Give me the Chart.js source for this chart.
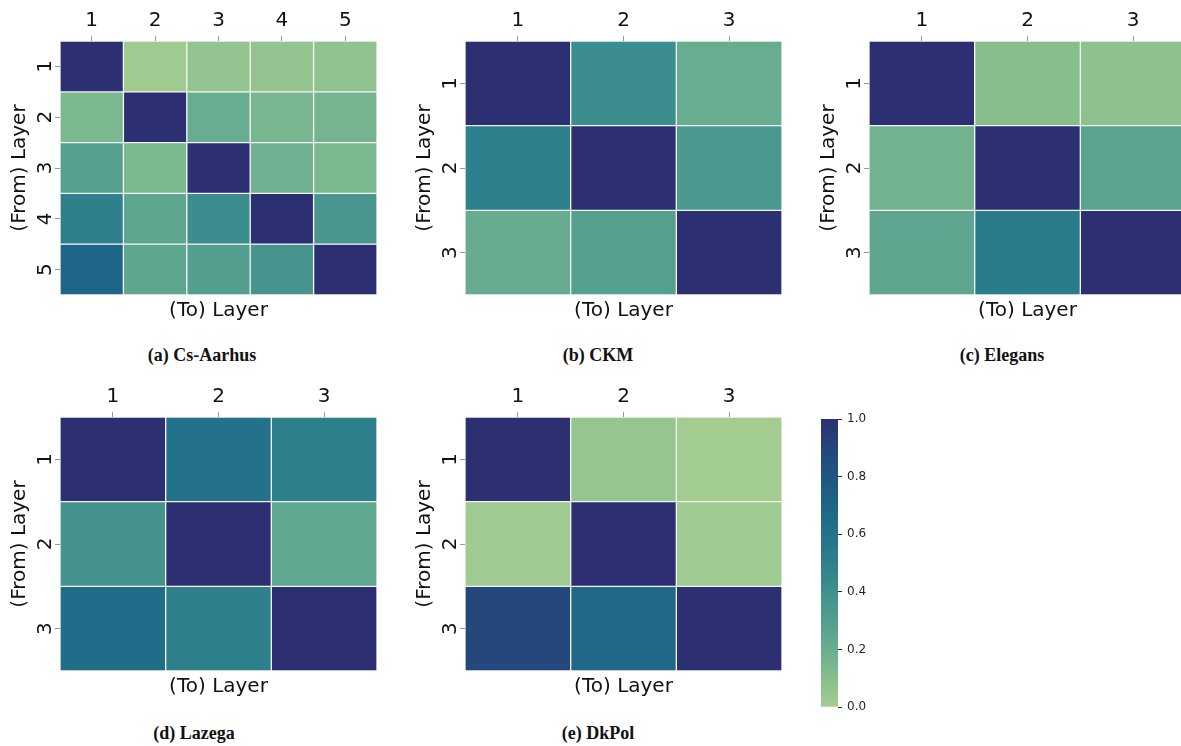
<!DOCTYPE html>
<html>
<head>
<meta charset="utf-8">
<script src="https://cdn.jsdelivr.net/npm/chart.js@4"></script>
<style>
  body { margin: 0; width: 1181px; height: 746px; overflow: hidden; background: #fff; position: relative; }
  canvas { position: absolute; }
  .cap { position: absolute; font-family: "Liberation Serif", serif; font-weight: bold; font-size: 18px;
         color: #111; transform: translateX(-50%); white-space: nowrap; line-height: 20px; }
</style>
</head>
<body>
<canvas id="a" width="390" height="330" style="left:0;top:0"></canvas>
<canvas id="b" width="390" height="330" style="left:405px;top:0"></canvas>
<canvas id="c" width="390" height="330" style="left:809px;top:0"></canvas>
<canvas id="d" width="390" height="330" style="left:0;top:376px"></canvas>
<canvas id="e" width="390" height="330" style="left:405px;top:376px"></canvas>
<canvas id="cbar" width="80" height="330" style="left:800px;top:400px"></canvas>

<div class="cap" style="left:202px;top:345px">(a) Cs-Aarhus</div>
<div class="cap" style="left:598px;top:345px">(b) CKM</div>
<div class="cap" style="left:1002px;top:345px">(c) Elegans</div>
<div class="cap" style="left:194px;top:723px">(d) Lazega</div>
<div class="cap" style="left:598px;top:723px">(e) DkPol</div>

<script>
// layer labels
const layers5 = ["1", "2", "3", "4", "5"];
const layers3 = ["1", "2", "3"];

// rows = (From) layer, columns = (To) layer
const csAarhus = [
  [1.00, 0.02, 0.06, 0.06, 0.07],
  [0.14, 1.00, 0.20, 0.15, 0.16],
  [0.29, 0.14, 1.00, 0.18, 0.14],
  [0.50, 0.25, 0.42, 1.00, 0.36],
  [0.70, 0.25, 0.30, 0.37, 1.00]
];
const ckm = [
  [1.00, 0.42, 0.20],
  [0.50, 1.00, 0.34],
  [0.21, 0.29, 1.00]
];
const elegans = [
  [1.00, 0.10, 0.08],
  [0.17, 1.00, 0.27],
  [0.25, 0.53, 1.00]
];
const lazega = [
  [1.00, 0.60, 0.50],
  [0.38, 1.00, 0.24],
  [0.65, 0.50, 1.00]
];
const dkpol = [
  [1.00, 0.05, 0.01],
  [0.02, 1.00, 0.02],
  [0.88, 0.68, 1.00]
];

// colorbar ticks
const cbarTicks = [0, 0.2, 0.4, 0.6, 0.8, 1.0];

// green -> blue colormap (like seaborn "crest")
const crestStops = [
  [0.0, 165, 205, 144],
  [0.1, 135, 190, 142],
  [0.2, 105, 173, 144],
  [0.3, 83, 158, 142],
  [0.4, 64, 144, 141],
  [0.5, 46, 128, 140],
  [0.6, 35, 114, 138],
  [0.7, 30, 101, 135],
  [0.8, 31, 86, 130],
  [0.9, 37, 69, 122],
  [1.0, 44, 48, 114]
];

function crest(v) {
  for (let i = 1; i < crestStops.length; i++) {
    const s0 = crestStops[i - 1], s1 = crestStops[i];
    if (v <= s1[0]) {
      const t = (v - s0[0]) / (s1[0] - s0[0]);
      const c = [1, 2, 3].map(k => Math.round(s0[k] + t * (s1[k] - s0[k])));
      return "rgb(" + c.join(",") + ")";
    }
  }
  const l = crestStops[crestStops.length - 1];
  return "rgb(" + l[1] + "," + l[2] + "," + l[3] + ")";
}

Chart.defaults.font.family = "'DejaVu Sans', sans-serif";
Chart.defaults.color = "#111";

const bigFont = { size: 20, family: "'DejaVu Sans', sans-serif" };

function heatmap(id, matrix, labels) {
  const n = labels.length;
  // one stacked dataset per (From) row, each cell one unit tall, coloured by its value
  const datasets = matrix.map(row => ({
    data: row.map(() => 1),
    backgroundColor: row.map(v => crest(v)),
    borderColor: "#f4f4f4",
    borderWidth: 1,
    borderSkipped: false,
    barPercentage: 1,
    categoryPercentage: 1
  }));

  new Chart(document.getElementById(id), {
    type: "bar",
    data: { labels: labels, datasets: datasets },
    options: {
      responsive: false,
      animation: false,
      layout: { padding: { right: 13 } },
      plugins: { legend: { display: false }, tooltip: { enabled: false } },
      scales: {
        x: {
          position: "top",
          stacked: true,
          grid: { offset: false, drawOnChartArea: false, tickLength: 5, tickColor: "#999" },
          border: { display: false },
          ticks: { font: bigFont, color: "#111", padding: 3 },
          afterFit: s => { s.height = 41; }
        },
        x2: {
          position: "bottom",
          type: "category",
          grid: { display: false },
          border: { display: false },
          ticks: { display: false },
          title: { display: true, text: "(To) Layer", font: bigFont, color: "#111", padding: { top: 0, bottom: 7 } },
          afterFit: s => { s.height = 35; }
        },
        y: {
          stacked: true,
          reverse: true,
          min: 0,
          max: n,
          grid: { drawOnChartArea: false, tickLength: 5, tickColor: "#999" },
          border: { display: false },
          afterBuildTicks: s => { s.ticks = labels.map((_, i) => ({ value: i + 0.5 })); },
          ticks: {
            font: bigFont, color: "#111", padding: 3,
            minRotation: 90, maxRotation: 90, crossAlign: "center",
            callback: (v, i) => labels[i]
          },
          title: { display: true, text: "(From) Layer", font: bigFont, color: "#111", padding: { top: 8, bottom: 0 } },
          afterFit: s => { s.width = 60; }
        }
      }
    }
  });
}

heatmap("a", csAarhus, layers5);
heatmap("b", ckm, layers3);
heatmap("c", elegans, layers3);
heatmap("d", lazega, layers3);
heatmap("e", dkpol, layers3);

// colorbar: a single floating bar from 0 to 1 filled with the colormap
new Chart(document.getElementById("cbar"), {
  type: "bar",
  data: {
    labels: [""],
    datasets: [{
      data: [[cbarTicks[0], cbarTicks[cbarTicks.length - 1]]],
      backgroundColor: c => {
        const chart = c.chart;
        if (!chart.chartArea) return "#888";
        const ys = chart.scales.y;
        const g = chart.ctx.createLinearGradient(0, ys.getPixelForValue(0), 0, ys.getPixelForValue(1));
        crestStops.forEach(s => g.addColorStop(s[0], "rgb(" + s[1] + "," + s[2] + "," + s[3] + ")"));
        return g;
      },
      borderWidth: 0,
      barPercentage: 1,
      categoryPercentage: 1
    }]
  },
  options: {
    responsive: false,
    animation: false,
    layout: { padding: { left: 21, top: 19, bottom: 23, right: 0 } },
    plugins: { legend: { display: false }, tooltip: { enabled: false } },
    scales: {
      x: { display: false },
      y: {
        position: "right",
        min: 0,
        max: 1,
        afterBuildTicks: s => { s.ticks = cbarTicks.map(v => ({ value: v })); },
        ticks: {
          callback: v => v.toFixed(1),
          font: { size: 12, family: "'DejaVu Sans', sans-serif" },
          color: "#262626",
          padding: 5
        },
        grid: { drawOnChartArea: false, tickLength: 4, tickColor: "#262626" },
        border: { display: false },
        afterFit: s => { s.width = 42; }
      }
    }
  }
});
</script>
</body>
</html>
